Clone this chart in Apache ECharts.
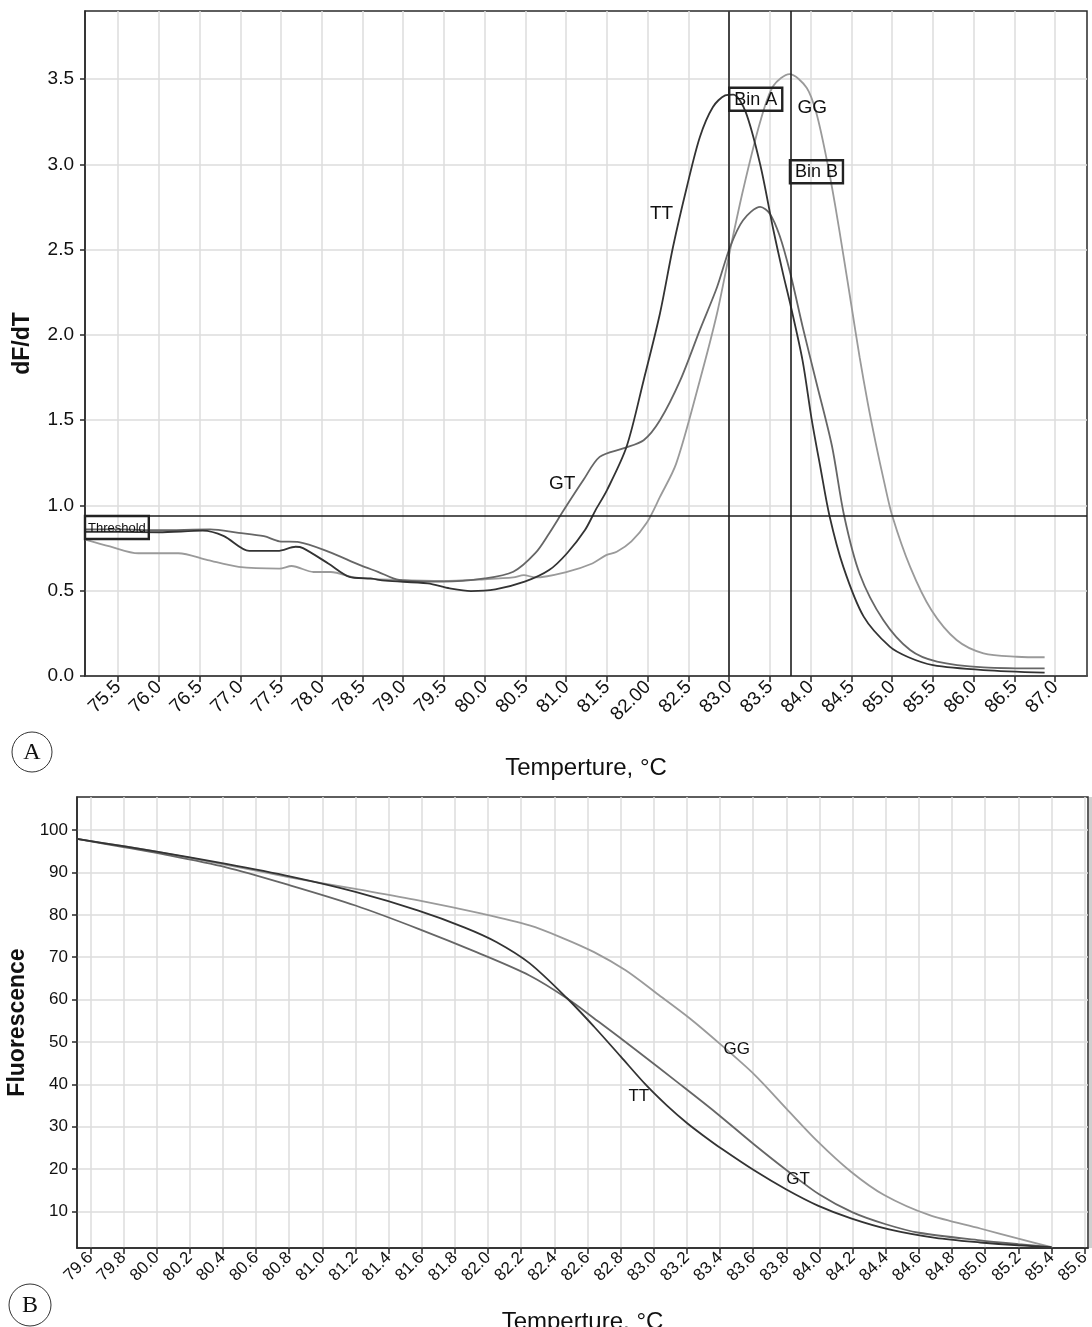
<!DOCTYPE html>
<html><head><meta charset="utf-8">
<script src="https://cdn.jsdelivr.net/npm/echarts@6/dist/echarts.min.js"></script>
<style>html,body{margin:0;padding:0;background:#fff}#c{width:1092px;height:1327px}</style>
</head><body><div id="c"></div>
<script>
// ---------- Panel A: derivative melt curves ----------
const xTicksA = [75.5,76.0,76.5,77.0,77.5,78.0,78.5,79.0,79.5,80.0,80.5,81.0,81.5,82.0,82.5,83.0,83.5,84.0,84.5,85.0,85.5,86.0,86.5,87.0];
const xTickLabelsA = ['75.5','76.0','76.5','77.0','77.5','78.0','78.5','79.0','79.5','80.0','80.5','81.0','81.5','82.00','82.5','83.0','83.5','84.0','84.5','85.0','85.5','86.0','86.5','87.0'];
const yTicksA = [0,0.5,1.0,1.5,2.0,2.5,3.0,3.5];

const ttA = [[75.1,0.846],[75.5,0.845],[76.0,0.843],[76.54,0.852],[76.8,0.82],[77.11,0.734],[77.46,0.734],[77.68,0.758],[77.77,0.75],[78.08,0.66],[78.34,0.582],[78.6,0.572],[78.78,0.559],[79.3,0.543],[79.57,0.514],[79.83,0.498],[80.13,0.508],[80.49,0.553],[80.79,0.621],[81.01,0.72],[81.23,0.856],[81.36,0.973],[81.5,1.09],[81.74,1.344],[81.95,1.735],[82.15,2.126],[82.31,2.516],[82.48,2.868],[82.64,3.161],[82.8,3.337],[82.95,3.405],[83.05,3.41],[83.2,3.31],[83.38,3.0],[83.54,2.62],[83.66,2.36],[83.75,2.18],[83.9,1.85],[84.01,1.51],[84.12,1.22],[84.23,0.94],[84.4,0.64],[84.65,0.348],[84.97,0.172],[85.2,0.11],[85.5,0.064],[86.12,0.035],[86.87,0.02]];
const gtA = [[75.1,0.86],[75.5,0.86],[76.0,0.855],[76.63,0.86],[76.98,0.84],[77.29,0.82],[77.48,0.79],[77.72,0.785],[78.08,0.729],[78.47,0.65],[78.69,0.611],[78.95,0.563],[79.48,0.553],[80.0,0.572],[80.35,0.611],[80.62,0.72],[80.79,0.836],[80.97,0.973],[81.21,1.149],[81.41,1.285],[81.7,1.335],[81.95,1.383],[82.15,1.5],[82.4,1.735],[82.64,2.03],[82.85,2.28],[83.01,2.516],[83.17,2.673],[83.38,2.751],[83.5,2.71],[83.62,2.58],[83.75,2.36],[83.9,2.05],[84.07,1.72],[84.26,1.35],[84.41,0.94],[84.6,0.6],[84.89,0.328],[85.22,0.152],[85.55,0.084],[86.12,0.051],[86.87,0.045]];
const ggA = [[75.1,0.8],[75.4,0.76],[75.75,0.72],[76.24,0.72],[76.6,0.68],[76.98,0.64],[77.48,0.63],[77.63,0.645],[77.9,0.61],[78.11,0.61],[78.42,0.576],[78.95,0.563],[79.48,0.557],[80.0,0.567],[80.35,0.578],[80.48,0.592],[80.62,0.578],[81.01,0.611],[81.32,0.66],[81.49,0.709],[81.62,0.729],[81.8,0.79],[81.99,0.9],[82.15,1.05],[82.35,1.247],[82.64,1.735],[82.85,2.126],[83.01,2.497],[83.17,2.85],[83.38,3.25],[83.54,3.46],[83.74,3.53],[83.95,3.45],[84.07,3.3],[84.2,3.02],[84.3,2.76],[84.4,2.47],[84.5,2.17],[84.6,1.87],[84.7,1.6],[84.8,1.36],[84.9,1.14],[85.0,0.94],[85.22,0.64],[85.48,0.387],[85.79,0.211],[86.12,0.133],[86.53,0.113],[86.87,0.11]];

const thresholdA = 0.938;
const binA = 83.0;
const binB = 83.745;

// ---------- Panel B: melt curves ----------
const xTicksB = [79.6,79.8,80.0,80.2,80.4,80.6,80.8,81.0,81.2,81.4,81.6,81.8,82.0,82.2,82.4,82.6,82.8,83.0,83.2,83.4,83.6,83.8,84.0,84.2,84.4,84.6,84.8,85.0,85.2,85.4,85.6];
const yTicksB = [10,20,30,40,50,60,70,80,90,100];

const ttB = [[79.52,97.9],[79.8,96.2],[80.0,94.9],[80.42,92.0],[80.81,89.0],[81.2,85.4],[81.58,81.0],[81.86,77.0],[82.05,73.6],[82.25,68.6],[82.48,60.2],[82.64,53.6],[82.8,46.6],[82.95,40.0],[83.08,35.0],[83.2,30.9],[83.3,27.9],[83.41,24.8],[83.61,19.6],[83.8,15.2],[83.99,11.4],[84.19,8.4],[84.42,5.8],[84.7,3.8],[84.97,2.7],[85.2,2.0],[85.4,1.6]];
const gtB = [[79.52,97.9],[79.8,96.0],[80.0,94.6],[80.42,91.2],[80.81,86.9],[81.2,82.2],[81.58,76.7],[81.93,71.2],[82.25,65.7],[82.48,60.2],[82.67,54.7],[82.91,47.6],[83.14,40.6],[83.37,33.5],[83.6,26.0],[83.8,19.8],[84.0,14.0],[84.2,9.8],[84.4,7.0],[84.6,5.0],[84.97,3.2],[85.2,2.3],[85.4,1.6]];
const ggB = [[79.52,97.9],[79.8,96.2],[80.0,94.9],[80.42,91.8],[80.81,88.8],[81.2,86.1],[81.58,83.4],[81.97,80.2],[82.25,77.5],[82.44,74.7],[82.64,71.2],[82.83,66.9],[83.02,61.4],[83.22,55.5],[83.41,49.2],[83.61,42.2],[83.8,34.3],[83.99,26.5],[84.19,19.4],[84.39,13.9],[84.66,9.2],[84.97,6.0],[85.2,3.6],[85.4,1.6]];

const FONT = 'Liberation Sans';
const cTT = '#333333', cGT = '#666666', cGG = '#9a9a9a';

function fmtA(v){ const i = xTicksA.findIndex(t => Math.abs(t - v) < 1e-6); return i >= 0 ? xTickLabelsA[i] : ''; }

const boxLabel = (text, size, pad) => ({
  show: true, formatter: text, position: [0, 0], align: 'left', verticalAlign: 'top',
  color: '#111', fontFamily: FONT, fontSize: size, borderColor: '#222', borderWidth: 1.2,
  padding: pad, backgroundColor: 'transparent'
});
const curveLabel = (size) => ({
  show: true, position: [0, 0], align: 'center', verticalAlign: 'middle',
  color: '#111', fontFamily: FONT, fontSize: size
});

const lineSeries = (name, data, color, xi, yi, extra) => Object.assign({
  name, type: 'line', data, xAxisIndex: xi, yAxisIndex: yi, showSymbol: false, symbol: 'none',
  smooth: 0.3, lineStyle: { color, width: 1.8 }, silent: true, z: 3
}, extra || {});

const chart = echarts.init(document.getElementById('c'), null, { renderer: 'canvas' });
chart.setOption({
  animation: false,
  backgroundColor: '#fff',
  grid: [
    { left: 85, top: 11, width: 1002, height: 665, outerBoundsMode: 'none', containLabel: false, show: true, borderColor: '#2a2a2a', borderWidth: 1.5, backgroundColor: 'transparent' },
    { left: 77, top: 797, width: 1011, height: 451, outerBoundsMode: 'none', containLabel: false, show: true, borderColor: '#2a2a2a', borderWidth: 1.5, backgroundColor: 'transparent' }
  ],
  xAxis: [
    { type: 'value', gridIndex: 0, min: 75.095, max: 87.39,
      name: 'Temperture, \u00B0C', nameLocation: 'middle', nameGap: 80,
      nameTextStyle: { fontFamily: FONT, fontSize: 24, color: '#111' },
      axisLine: { show: true, onZero: false, lineStyle: { color: '#2a2a2a', width: 1.5 } },
      axisTick: { show: true, customValues: xTicksA, length: 6, lineStyle: { color: '#2a2a2a', width: 1.5 } },
      axisLabel: { customValues: xTicksA, formatter: fmtA, rotate: 45, fontFamily: FONT, fontSize: 19, color: '#111', margin: 8 },
      splitLine: { show: true, lineStyle: { color: '#dcdcdc', width: 1.5 } } },
    { type: 'value', gridIndex: 1, min: 79.52, max: 85.62,
      name: 'Temperture, \u00B0C', nameLocation: 'middle', nameGap: 62,
      nameTextStyle: { fontFamily: FONT, fontSize: 24, color: '#111' },
      axisLine: { show: true, onZero: false, lineStyle: { color: '#2a2a2a', width: 1.5 } },
      axisTick: { show: true, customValues: xTicksB, length: 6, lineStyle: { color: '#2a2a2a', width: 1.5 } },
      axisLabel: { customValues: xTicksB, formatter: v => v.toFixed(1), rotate: 45, fontFamily: FONT, fontSize: 17, color: '#111', margin: 7 },
      splitLine: { show: true, lineStyle: { color: '#dcdcdc', width: 1.5 } } }
  ],
  yAxis: [
    { type: 'value', gridIndex: 0, min: 0, max: 3.9,
      name: 'dF/dT', nameLocation: 'middle', nameGap: 51,
      nameTextStyle: { fontFamily: FONT, fontSize: 23, fontWeight: 'bold', color: '#111' },
      axisLine: { show: true, lineStyle: { color: '#2a2a2a', width: 1.5 } },
      axisTick: { show: true, customValues: yTicksA, length: 5, lineStyle: { color: '#2a2a2a', width: 1.5 } },
      axisLabel: { customValues: yTicksA, formatter: v => v.toFixed(1), fontFamily: FONT, fontSize: 19, color: '#111', margin: 11 },
      splitLine: { show: true, lineStyle: { color: '#dcdcdc', width: 1.5 } } },
    { type: 'value', gridIndex: 1, min: 1.4, max: 107.8,
      name: 'Fluorescence', nameLocation: 'middle', nameGap: 47,
      nameTextStyle: { fontFamily: FONT, fontSize: 23, fontWeight: 'bold', color: '#111' },
      axisLine: { show: true, lineStyle: { color: '#2a2a2a', width: 1.5 } },
      axisTick: { show: true, customValues: yTicksB, length: 5, lineStyle: { color: '#2a2a2a', width: 1.5 } },
      axisLabel: { customValues: yTicksB, formatter: v => String(v), fontFamily: FONT, fontSize: 17, color: '#111', margin: 9 },
      splitLine: { show: true, lineStyle: { color: '#dcdcdc', width: 1.5 } } }
  ],
  series: [
    lineSeries('GG', ggA, cGG, 0, 0, {
      markPoint: { symbol: 'circle', symbolSize: 0, silent: true, data: [
        { coord: [84.02, 3.33], label: Object.assign(curveLabel(19), { formatter: 'GG' }) }
      ] }
    }),
    lineSeries('GT', gtA, cGT, 0, 0, {
      markPoint: { symbol: 'circle', symbolSize: 0, silent: true, data: [
        { coord: [80.95, 1.13], label: Object.assign(curveLabel(19), { formatter: 'GT' }) }
      ] }
    }),
    lineSeries('TT', ttA, cTT, 0, 0, {
      markLine: { silent: true, symbol: ['none', 'none'], label: { show: false },
        lineStyle: { color: '#1e1e1e', width: 1.6, type: 'solid' },
        data: [ { yAxis: thresholdA }, { xAxis: binA }, { xAxis: binB } ] },
      markPoint: { symbol: 'circle', symbolSize: 0, silent: true, data: [
        { coord: [82.17, 2.71], label: Object.assign(curveLabel(19), { formatter: 'TT' }) },
        { coord: [binA, 3.45], label: boxLabel('Bin A', 18, [3, 5, 2, 5]) },
        { coord: [binB, 3.025], label: boxLabel('Bin B', 18, [3, 5, 2, 5]) },
        { coord: [75.095, thresholdA], label: boxLabel('Threshold', 13, [6, 3, 4, 3]) }
      ] }
    }),
    lineSeries('GG', ggB, cGG, 1, 1, {
      markPoint: { symbol: 'circle', symbolSize: 0, silent: true, data: [
        { coord: [83.5, 48.3], label: Object.assign(curveLabel(17), { formatter: 'GG' }) }
      ] }
    }),
    lineSeries('GT', gtB, cGT, 1, 1, {
      markPoint: { symbol: 'circle', symbolSize: 0, silent: true, data: [
        { coord: [83.87, 17.7], label: Object.assign(curveLabel(17), { formatter: 'GT' }) }
      ] }
    }),
    lineSeries('TT', ttB, cTT, 1, 1, {
      markPoint: { symbol: 'circle', symbolSize: 0, silent: true, data: [
        { coord: [82.91, 37.3], label: Object.assign(curveLabel(17), { formatter: 'TT' }) }
      ] }
    })
  ],
  graphic: [
    { type: 'circle', shape: { cx: 32, cy: 752, r: 20 }, style: { fill: '#fff', stroke: '#333', lineWidth: 1 } },
    { type: 'text', x: 32, y: 753, style: { text: 'A', font: '24px "Liberation Serif"', fill: '#111', align: 'center', verticalAlign: 'middle' } },
    { type: 'circle', shape: { cx: 30, cy: 1305, r: 21 }, style: { fill: '#fff', stroke: '#333', lineWidth: 1 } },
    { type: 'text', x: 30, y: 1306, style: { text: 'B', font: '24px "Liberation Serif"', fill: '#111', align: 'center', verticalAlign: 'middle' } },
    { type: 'rect', shape: { x: 1089, y: 797, width: 3, height: 451 }, style: { fill: '#d0d0d0' } }
  ]
});
</script>
</body></html>
